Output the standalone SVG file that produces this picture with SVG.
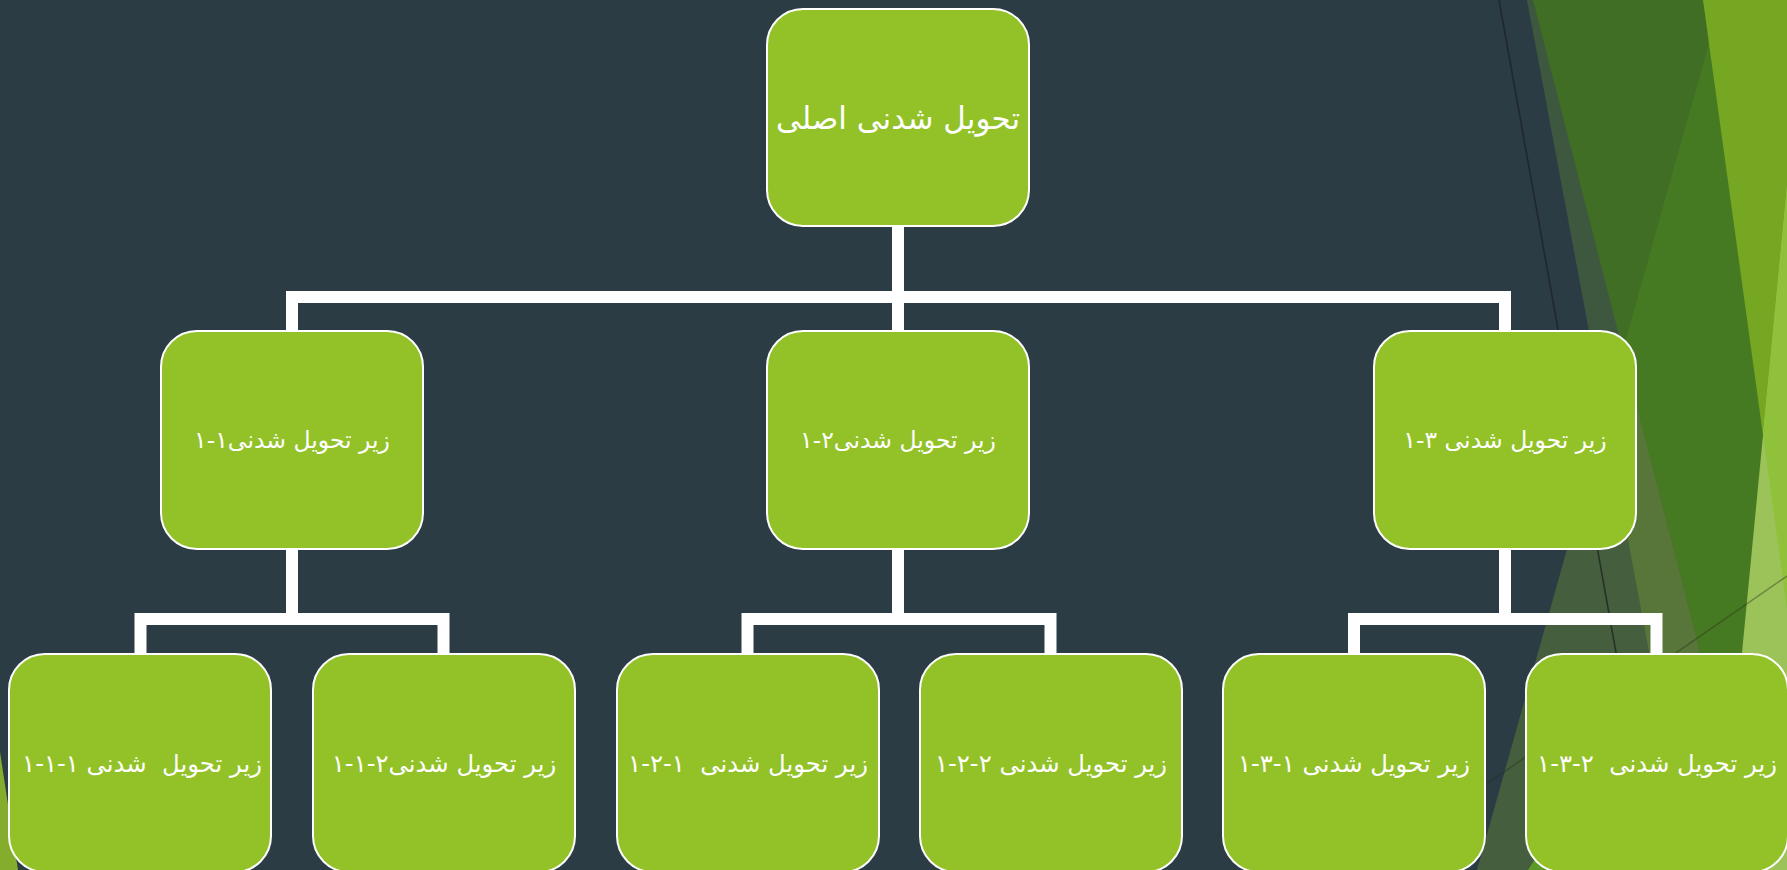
<svg xmlns="http://www.w3.org/2000/svg" width="1787" height="870" viewBox="0 0 1787 870">
  <style>
    .box { fill: #92c227; stroke: #ffffff; stroke-width: 2; }
    .wire { fill: none; stroke: #ffffff; stroke-width: 12; stroke-linejoin: miter; }
    .lbl { fill: #ffffff; font-family: 'DejaVu Sans', 'Noto Sans', sans-serif; text-anchor: middle; white-space: pre; }
    .l1 { font-size: 31px; }
    .l2 { font-size: 23.5px; }
    .l3 { font-size: 24.3px; }
  </style>

  <!-- slide background -->
  <rect x="0" y="0" width="1787" height="870" fill="#2c3c45"/>

  <!-- faceted green decoration on the right edge -->
  <g id="facets">
    <polygon points="1527,0 1787,0 1787,870 1690,870" fill="#3e5840"/>
    <polygon points="1721,0 1787,0 1787,870 1477,870" fill="#455f3e"/>
    <polygon points="1721,0 1787,0 1787,870 1690,870 1604.6,415" fill="#58763a"/>
    <polygon points="1533,0 1787,0 1787,870 1756,870" fill="#3f6e24"/>
    <polygon points="1721,0 1787,0 1787,870 1756,870 1622.7,350.4" fill="#467a22"/>
    <polygon points="1703,0 1787,0 1787,609" fill="#76a723"/>
    <polygon points="1787,187 1787,870 1721,870" fill="#9bc35a"/>
    <polygon points="1763,435 1787,187 1787,609" fill="#8fc23a"/>
    <polygon points="1528,870 1560,820 1572,870" fill="#5c9a2a"/>
    <line x1="1499" y1="0" x2="1655" y2="870" stroke="#1c2224" stroke-width="1.6" opacity="0.75"/>
    <line x1="1400" y1="844" x2="1787" y2="576" stroke="#2a2a18" stroke-width="1.5" opacity="0.4"/>
  </g>
  <polygon id="corner-facet" points="0,752 18,870 0,870" fill="#84ad2e"/>

  <!-- connectors -->
  <g id="connectors">
    <path class="wire" d="M898,226 V297"/>
    <path class="wire" d="M292,335 V297 H1505 V335"/>
    <path class="wire" d="M898,297 V335"/>
    <path class="wire" d="M292,549 V619"/>
    <path class="wire" d="M140.5,658 V619 H443.5 V658"/>
    <path class="wire" d="M898,549 V619"/>
    <path class="wire" d="M747.5,658 V619 H1050.5 V658"/>
    <path class="wire" d="M1505,549 V619"/>
    <path class="wire" d="M1354,658 V619 H1656.5 V658"/>
  </g>

  <!-- root -->
  <g id="node-root">
    <rect class="box" x="767" y="9" width="262" height="217" rx="36"/>
    <text class="lbl l1" x="898" y="129" direction="rtl">تحویل شدنی اصلی</text>
  </g>

  <!-- second level -->
  <g id="node-1-1">
    <rect class="box" x="161" y="331" width="262" height="218" rx="36"/>
    <text class="lbl l2" x="292" y="448" direction="rtl">زیر تحویل شدنی۱-۱</text>
  </g>
  <g id="node-1-2">
    <rect class="box" x="767" y="331" width="262" height="218" rx="36"/>
    <text class="lbl l2" x="898" y="448" direction="rtl">زیر تحویل شدنی۲-۱</text>
  </g>
  <g id="node-1-3">
    <rect class="box" x="1374" y="331" width="262" height="218" rx="36"/>
    <text class="lbl l2" x="1505" y="448" direction="rtl">زیر تحویل شدنی ۳-۱</text>
  </g>

  <!-- third level -->
  <g id="node-1-1-1">
    <rect class="box" x="9" y="654" width="262" height="218" rx="36"/>
    <text class="lbl l3" x="142" y="772" direction="rtl">زیر تحویل  شدنی ۱-۱-۱</text>
  </g>
  <g id="node-1-1-2">
    <rect class="box" x="313" y="654" width="262" height="218" rx="36"/>
    <text class="lbl l3" x="444" y="772" direction="rtl">زیر تحویل شدنی۲-۱-۱</text>
  </g>
  <g id="node-1-2-1">
    <rect class="box" x="617" y="654" width="262" height="218" rx="36"/>
    <text class="lbl l3" x="748" y="772" direction="rtl">زیر تحویل شدنی  ۱-۲-۱</text>
  </g>
  <g id="node-1-2-2">
    <rect class="box" x="920" y="654" width="262" height="218" rx="36"/>
    <text class="lbl l3" x="1051" y="772" direction="rtl">زیر تحویل شدنی ۲-۲-۱</text>
  </g>
  <g id="node-1-3-1">
    <rect class="box" x="1223" y="654" width="262" height="218" rx="36"/>
    <text class="lbl l3" x="1354" y="772" direction="rtl">زیر تحویل شدنی ۱-۳-۱</text>
  </g>
  <g id="node-1-3-2">
    <rect class="box" x="1526" y="654" width="262" height="218" rx="36"/>
    <text class="lbl l3" x="1657" y="772" direction="rtl">زیر تحویل شدنی  ۲-۳-۱</text>
  </g>
</svg>
